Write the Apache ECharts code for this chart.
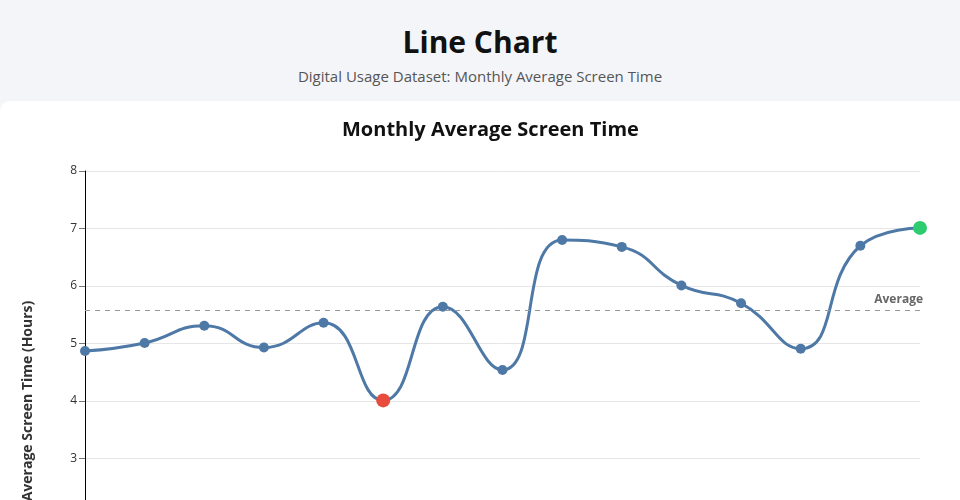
<!DOCTYPE html>
<html>
<head>
<meta charset="utf-8">
<script src="https://cdn.jsdelivr.net/npm/echarts@6/dist/echarts.min.js"></script>
<style>
  html, body { margin: 0; padding: 0; background: #f4f5f9; font-family: "Open Sans", sans-serif; overflow: hidden; }
  .header { height: 101px; text-align: center; position: relative; }
  .header h1 { position: absolute; left: 0; right: 0; top: 22px; margin: 0; font-size: 30px; font-weight: 700; color: #111; line-height: 40px; }
  .header p { position: absolute; left: 0; right: 0; top: 66px; margin: 0; font-size: 15px; color: #555; line-height: 20px; }
  .card { position: absolute; top: 101px; left: 0; width: 980px; height: 600px; background: #fff; border-top-left-radius: 10px; }
  #chart { width: 960px; height: 600px; }
</style>
</head>
<body>
<div class="header">
  <h1>Line Chart</h1>
  <p>Digital Usage Dataset: Monthly Average Screen Time</p>
</div>
<div class="card"><div id="chart"></div></div>
<script>
const months = ["Jan 2023","Feb 2023","Mar 2023","Apr 2023","May 2023","Jun 2023","Jul 2023","Aug 2023","Sep 2023","Oct 2023","Nov 2023","Dec 2023","Jan 2024","Feb 2024","Mar 2024"];
const screenTime = [4.87, 5.01, 5.31, 4.93, 5.36, 4.01, 5.64, 4.54, 6.80, 6.68, 6.01, 5.70, 4.91, 6.70, 7.01];
const yTicks = { min: 0, max: 8, interval: 1 };

const minVal = Math.min(...screenTime);
const maxVal = Math.max(...screenTime);
const pointData = screenTime.map(v => {
  if (v === minVal) return { value: v, symbolSize: 14, itemStyle: { color: '#e74c3c' } };
  if (v === maxVal) return { value: v, symbolSize: 14, itemStyle: { color: '#2ecc71' } };
  return v;
});

const chart = echarts.init(document.getElementById('chart'));
chart.setOption({
  animation: false,
  title: {
    text: 'Monthly Average Screen Time',
    left: 342, top: 15, padding: 0,
    textStyle: { fontFamily: 'Open Sans', fontSize: 20, fontWeight: 700, color: '#111', lineHeight: 28 }
  },
  grid: { left: 85, right: 40, top: 70, height: 460 },
  xAxis: {
    type: 'category', data: months, boundaryGap: false,
    axisLine: { lineStyle: { color: '#000' } },
    axisLabel: { fontFamily: 'Open Sans', color: '#333' }
  },
  yAxis: {
    type: 'value', min: yTicks.min, max: yTicks.max, interval: yTicks.interval,
    name: 'Average Screen Time (Hours)', nameLocation: 'middle', nameGap: 50,
    nameTextStyle: { fontFamily: 'Open Sans', fontSize: 14, fontWeight: 700, color: '#333' },
    axisLine: { show: true, lineStyle: { color: '#000', width: 1 } },
    axisTick: { show: true, length: 6, lineStyle: { color: '#777', width: 1 } },
    axisLabel: { fontFamily: 'Open Sans', fontSize: 12, color: '#333', margin: 8 },
    splitLine: { lineStyle: { color: '#e6e6e6', width: 1 } }
  },
  series: [{
    type: 'line', data: pointData, smooth: true,
    symbol: 'circle', symbolSize: 10,
    lineStyle: { color: '#4e79a7', width: 3 },
    itemStyle: { color: '#4e79a7' },
    markLine: {
      symbol: 'none', silent: true,
      data: [{ type: 'average', name: 'Average' }],
      lineStyle: { color: '#999', type: [5, 5], width: 1.2 },
      label: { position: 'insideEndTop', distance: [-3, 5], formatter: 'Average', fontFamily: 'Open Sans', fontSize: 12, fontWeight: 700, color: '#666' }
    }
  }]
});
</script>
</body>
</html>
